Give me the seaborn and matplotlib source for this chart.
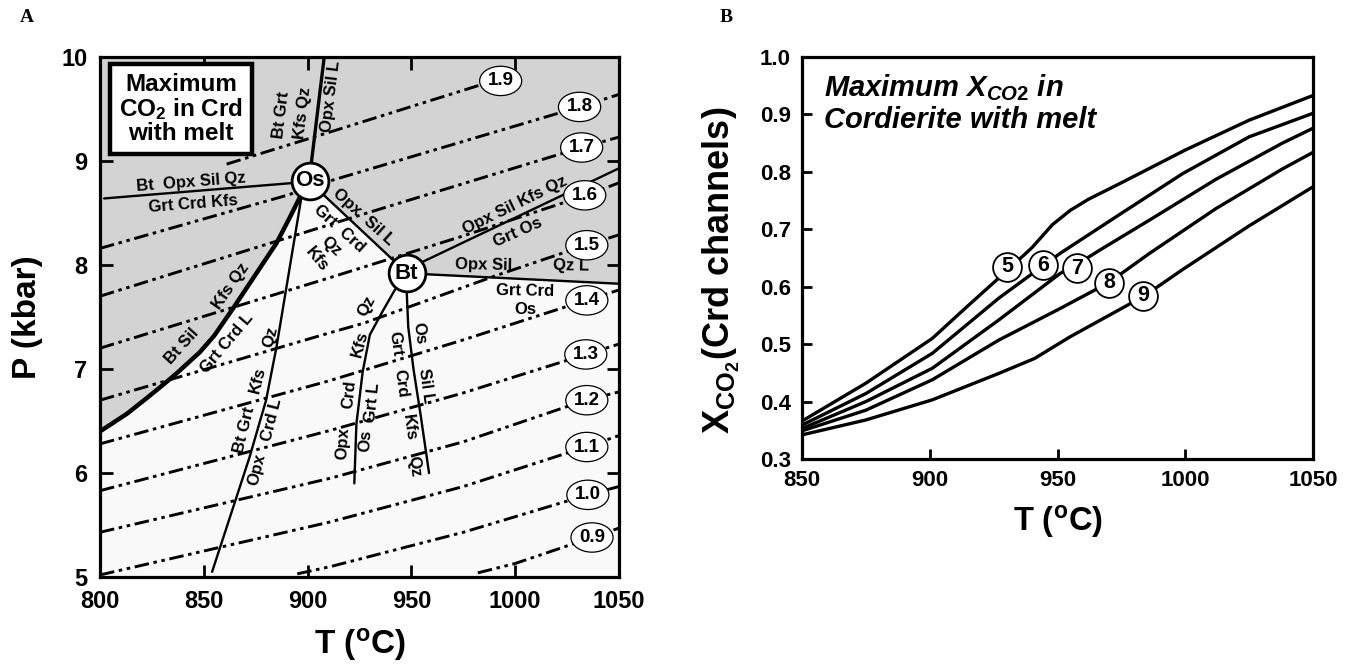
import numpy as np
import pandas as pd
import matplotlib.pyplot as plt
import seaborn as sns

# ---------- panel A: P-T grid (T in C, P in kbar) ----------
thick_T = [800, 813, 822.5, 830.5, 837, 848, 855, 864, 874, 885, 891.5, 895.5, 900]
thick_P = [6.40, 6.57, 6.72, 6.85, 6.96, 7.16, 7.32, 7.58, 7.88, 8.21, 8.46, 8.62, 8.80]
os_top_T = [901, 908]
os_top_P = [8.85, 10.0]
os_left_T = [802, 900]
os_left_P = [8.64, 8.80]
os_bt_T = [901, 948]
os_bt_P = [8.80, 7.92]
os_down_T = [900.5, 897, 891, 885, 880, 872, 863, 854]
os_down_P = [8.82, 8.65, 7.93, 7.21, 6.70, 6.15, 5.60, 5.05]
bt_up_T = [948, 1050]
bt_up_P = [7.96, 8.93]
bt_right_T = [948, 1050]
bt_right_P = [7.92, 7.82]
bt_left_T = [946, 942, 936, 930, 926.5, 923.5, 922.5]
bt_left_P = [7.85, 7.76, 7.55, 7.33, 6.97, 6.47, 5.90]
bt_down_T = [947.5, 948.5, 951, 954.5, 958.5]
bt_down_P = [7.85, 7.40, 7.00, 6.55, 6.00]

inv_names = ['Os', 'Bt']
inv_T = [901.2, 947.7]
inv_P = [8.81, 7.92]

# CO2 isopleths
iso_names = ['0.9', '1.0', '1.1', '1.2', '1.3', '1.4', '1.5', '1.6', '1.7', '1.8', '1.9']
iso_T = [
    [982, 1000, 1037, 1050],
    [895, 911, 975, 1035, 1050],
    [800, 911, 975, 1034, 1050],
    [800, 911, 975, 1034, 1050],
    [800, 911, 975, 1034, 1050],
    [800, 911, 975, 1034, 1050],
    [800, 911, 927, 991, 1034, 1050],
    [800, 911, 975, 1034, 1050],
    [800, 927, 1032, 1050],
    [800, 890, 911, 1031, 1050],
    [861, 911, 983],
]
iso_P = [
    [5.04, 5.13, 5.38, 5.47],
    [5.03, 5.10, 5.43, 5.79, 5.87],
    [5.02, 5.53, 5.87, 6.25, 6.36],
    [5.43, 5.95, 6.30, 6.70, 6.78],
    [5.83, 6.41, 6.77, 7.14, 7.24],
    [6.28, 6.89, 7.28, 7.66, 7.76],
    [6.70, 7.35, 7.44, 7.90, 8.19, 8.29],
    [7.20, 7.88, 8.28, 8.67, 8.79],
    [7.70, 8.49, 9.13, 9.23],
    [8.16, 8.67, 8.81, 9.52, 9.64],
    [8.97, 9.28, 9.73],
]
iso_lab_T = [1037, 1035, 1034.5, 1034.5, 1034, 1034.5, 1034.5, 1033.5, 1032, 1031, 993]
iso_lab_P = [5.38, 5.79, 6.25, 6.70, 7.14, 7.66, 8.19, 8.67, 9.13, 9.52, 9.77]

# ---------- panel B: max XCO2 vs T, curves labelled by P (kbar) ----------
cur_names = ['5', '6', '7', '8', '9']
cur_T = [
    [850, 875, 901, 915, 930, 940, 948, 955, 962, 975, 1000, 1025, 1050],
    [850, 875, 901, 927, 944.5, 951, 973, 999, 1025, 1050],
    [850, 875, 901, 927, 951, 958, 967, 986, 1012, 1038, 1050],
    [850, 875, 901, 927, 951, 970, 986, 1012, 1038, 1050],
    [850, 875, 901, 927, 941, 955, 984, 999, 1025, 1050],
]
cur_X = [
    [0.366, 0.432, 0.510, 0.567, 0.627, 0.668, 0.708, 0.733, 0.752, 0.781, 0.838, 0.890, 0.933],
    [0.359, 0.414, 0.484, 0.580, 0.637, 0.658, 0.722, 0.797, 0.861, 0.902],
    [0.353, 0.400, 0.458, 0.542, 0.623, 0.640, 0.665, 0.716, 0.787, 0.850, 0.876],
    [0.349, 0.385, 0.438, 0.507, 0.562, 0.607, 0.658, 0.736, 0.805, 0.834],
    [0.342, 0.368, 0.403, 0.449, 0.475, 0.513, 0.584, 0.630, 0.706, 0.774],
]
cur_lab_T = [930.2, 944.5, 957.8, 970.3, 983.6]
cur_lab_X = [0.635, 0.637, 0.632, 0.607, 0.584]

sns.set_theme(style='ticks')
plt.rcParams['font.family'] = ['Liberation Sans', 'DejaVu Sans']
plt.rcParams['font.weight'] = 'bold'
plt.rcParams['axes.labelweight'] = 'bold'
plt.rcParams['mathtext.fontset'] = 'custom'
plt.rcParams['mathtext.rm'] = 'Liberation Sans:bold'
plt.rcParams['mathtext.bf'] = 'Liberation Sans:bold'
plt.rcParams['mathtext.it'] = 'Liberation Sans:bold:italic'
plt.rcParams['lines.solid_joinstyle'] = 'round'
for k in ['text.color', 'axes.labelcolor', 'xtick.color', 'ytick.color', 'axes.edgecolor']:
    plt.rcParams[k] = 'black'

fig = plt.figure(figsize=(13.6, 6.66), dpi=100)
axA = fig.add_axes([0.07353, 0.13363, 0.38162, 0.78078])
axB = fig.add_axes([0.58971, 0.31081, 0.37574, 0.6036])

# ---- panel A ----
axA.set_facecolor('#f9f9f9')
poly_T = [800] + thick_T + os_bt_T[1:] + bt_right_T[1:] + [1050]
poly_P = [10] + thick_P + os_bt_P[1:] + bt_right_P[1:] + [10]
axA.fill(poly_T, poly_P, color='#d3d3d3', lw=0, zorder=0)

for t, p in zip(iso_T, iso_P):
    axA.plot(t, p, color='black', lw=2.1, dashes=(5, 1.6, 1.2, 1.6, 1.2, 1.6), zorder=2)
for name, t, p in zip(iso_names, iso_lab_T, iso_lab_P):
    axA.text(t, p, name, ha='center', va='center', fontsize=13.5, zorder=6,
             bbox=dict(boxstyle='ellipse,pad=0.1', fc='white', ec='black', lw=0.9))

axA.plot(thick_T, thick_P, color='black', lw=3.2, zorder=3, solid_capstyle='butt')
axA.plot(os_top_T, os_top_P, color='black', lw=2.4, zorder=3)
for t, p in [(os_left_T, os_left_P), (os_bt_T, os_bt_P), (os_down_T, os_down_P),
             (bt_up_T, bt_up_P), (bt_right_T, bt_right_P), (bt_left_T, bt_left_P),
             (bt_down_T, bt_down_P)]:
    axA.plot(t, p, color='black', lw=1.7, zorder=3)

axA.scatter(inv_T, inv_P, s=700, facecolor='white', edgecolor='black', linewidths=2, zorder=7)
for name, t, p in zip(inv_names, inv_T, inv_P):
    axA.text(t, p, name, ha='center', va='center', fontsize=16, zorder=8)

phase_labels = [
    ('Bt  Opx Sil Qz', 844, 8.80, 4.5), ('Grt Crd Kfs', 845, 8.59, 4.5),
    ('Bt Grt', 887.5, 9.44, 83), ('Kfs Qz', 897.9, 9.46, 83), ('Opx Sil L', 911, 9.62, 83),
    ('Opx  Sil L', 927, 8.46, -42), ('Grt  Crd', 915.5, 8.35, -42),
    ('Qz', 911.5, 8.18, -42), ('Kfs', 904.3, 8.05, -50),
    ('Opx Sil Kfs Qz', 1000, 8.57, 26), ('Grt Os', 1001, 8.31, 24),
    ('Opx Sil', 984.6, 8.0, -1), ('Qz L', 1027, 7.99, -1),
    ('Grt Crd', 1004.7, 7.75, -1), ('Os', 1004.7, 7.57, 0),
    ('Opx', 917, 6.28, 86), ('Crd', 920.2, 6.76, 84), ('Kfs', 925, 7.24, 75), ('Qz', 928.4, 7.60, 62),
    ('Os', 928, 6.31, 86), ('Grt L', 931.3, 6.68, 84),
    ('Grt', 942.6, 7.24, -82), ('Crd', 945, 6.86, -82), ('Kfs', 949, 6.44, -82), ('Qz', 951.5, 6.06, -82),
    ('Os', 953.6, 7.34, -82), ('Sil L', 956.9, 6.84, -82),
    ('Bt Grt', 869.5, 6.41, 76), ('Kfs', 876, 6.89, 76), ('Qz', 882.4, 7.31, 76),
    ('Opx', 875.8, 6.03, 76), ('Crd L', 883, 6.51, 76),
    ('Bt Sil', 839.5, 7.22, 48), ('Kfs Qz', 863.2, 7.80, 55), ('Grt Crd L', 861, 7.25, 50),
]
for txt, t, p, rot in phase_labels:
    axA.text(t, p, txt, ha='center', va='center', rotation=rot, rotation_mode='anchor',
             fontsize=12, zorder=5)

axA.text(839, 9.5, 'Maximum\nCO$_2$ in Crd\nwith melt', ha='center', va='center',
         fontsize=17.5, linespacing=1.0, zorder=9,
         bbox=dict(boxstyle='square,pad=0.38', fc='white', ec='black', lw=3.2))

axA.set_xlim(800, 1050)
axA.set_ylim(5, 10)
axA.set_xticks(np.arange(800, 1051, 50))
axA.set_yticks(np.arange(5, 11, 1))
axA.tick_params(direction='in', length=9, width=2, top=True, right=True, labelsize=17, pad=9)
axA.set_xlabel(r'T ($^\mathrm{o}$C)', fontsize=24)
axA.set_ylabel('P (kbar)', fontsize=24)
axA.xaxis.set_label_coords(0.5, -0.095)
axA.yaxis.set_label_coords(-0.11, 0.5)

# ---- panel B ----
rows = []
for name, t, x in zip(cur_names, cur_T, cur_X):
    rows.append(pd.DataFrame({'T': t, 'X': x, 'P': name}))
df_b = pd.concat(rows, ignore_index=True)
sns.lineplot(data=df_b, x='T', y='X', units='P', estimator=None, sort=False,
             color='black', lw=2.4, ax=axB, legend=False)
axB.scatter(cur_lab_T, cur_lab_X, s=430, facecolor='white', edgecolor='black', linewidths=1.3, zorder=5)
for name, t, x in zip(cur_names, cur_lab_T, cur_lab_X):
    axB.text(t, x, name, ha='center', va='center', fontsize=15.5, zorder=6)

axB.text(0.043, 0.962, 'Maximum X$_{\\mathit{CO2}}$ in\nCordierite with melt',
         transform=axB.transAxes, ha='left', va='top', fontsize=21, fontstyle='italic',
         linespacing=1.15)

axB.set_xlim(850, 1050)
axB.set_ylim(0.3, 1.0)
axB.set_xticks(np.arange(850, 1051, 50))
axB.set_yticks(np.arange(0.3, 1.01, 0.1))
axB.yaxis.set_major_formatter(plt.FormatStrFormatter('%.1f'))
axB.tick_params(direction='in', length=7, width=2, labelsize=16, pad=8)
axB.set_xlabel(r'T ($^\mathrm{o}$C)', fontsize=23.5)
axB.set_ylabel(r'X$_{\mathrm{CO}_\mathrm{2}}$(Crd channels)', fontsize=26)
axB.xaxis.set_label_coords(0.5, -0.11)
axB.yaxis.set_label_coords(-0.118, 0.47)

for ax in (axA, axB):
    for sp in ax.spines.values():
        sp.set_visible(True)
        sp.set_linewidth(2.3)
        sp.set_color('black')
        sp.set_zorder(10)

fig.text(0.0147, 0.974, 'A', family='Liberation Serif', fontsize=14, fontweight='bold', va='center')
fig.text(0.529, 0.973, 'B', family='Liberation Serif', fontsize=14, fontweight='bold', va='center')

fig.savefig('out.png', dpi=100, facecolor='white')
